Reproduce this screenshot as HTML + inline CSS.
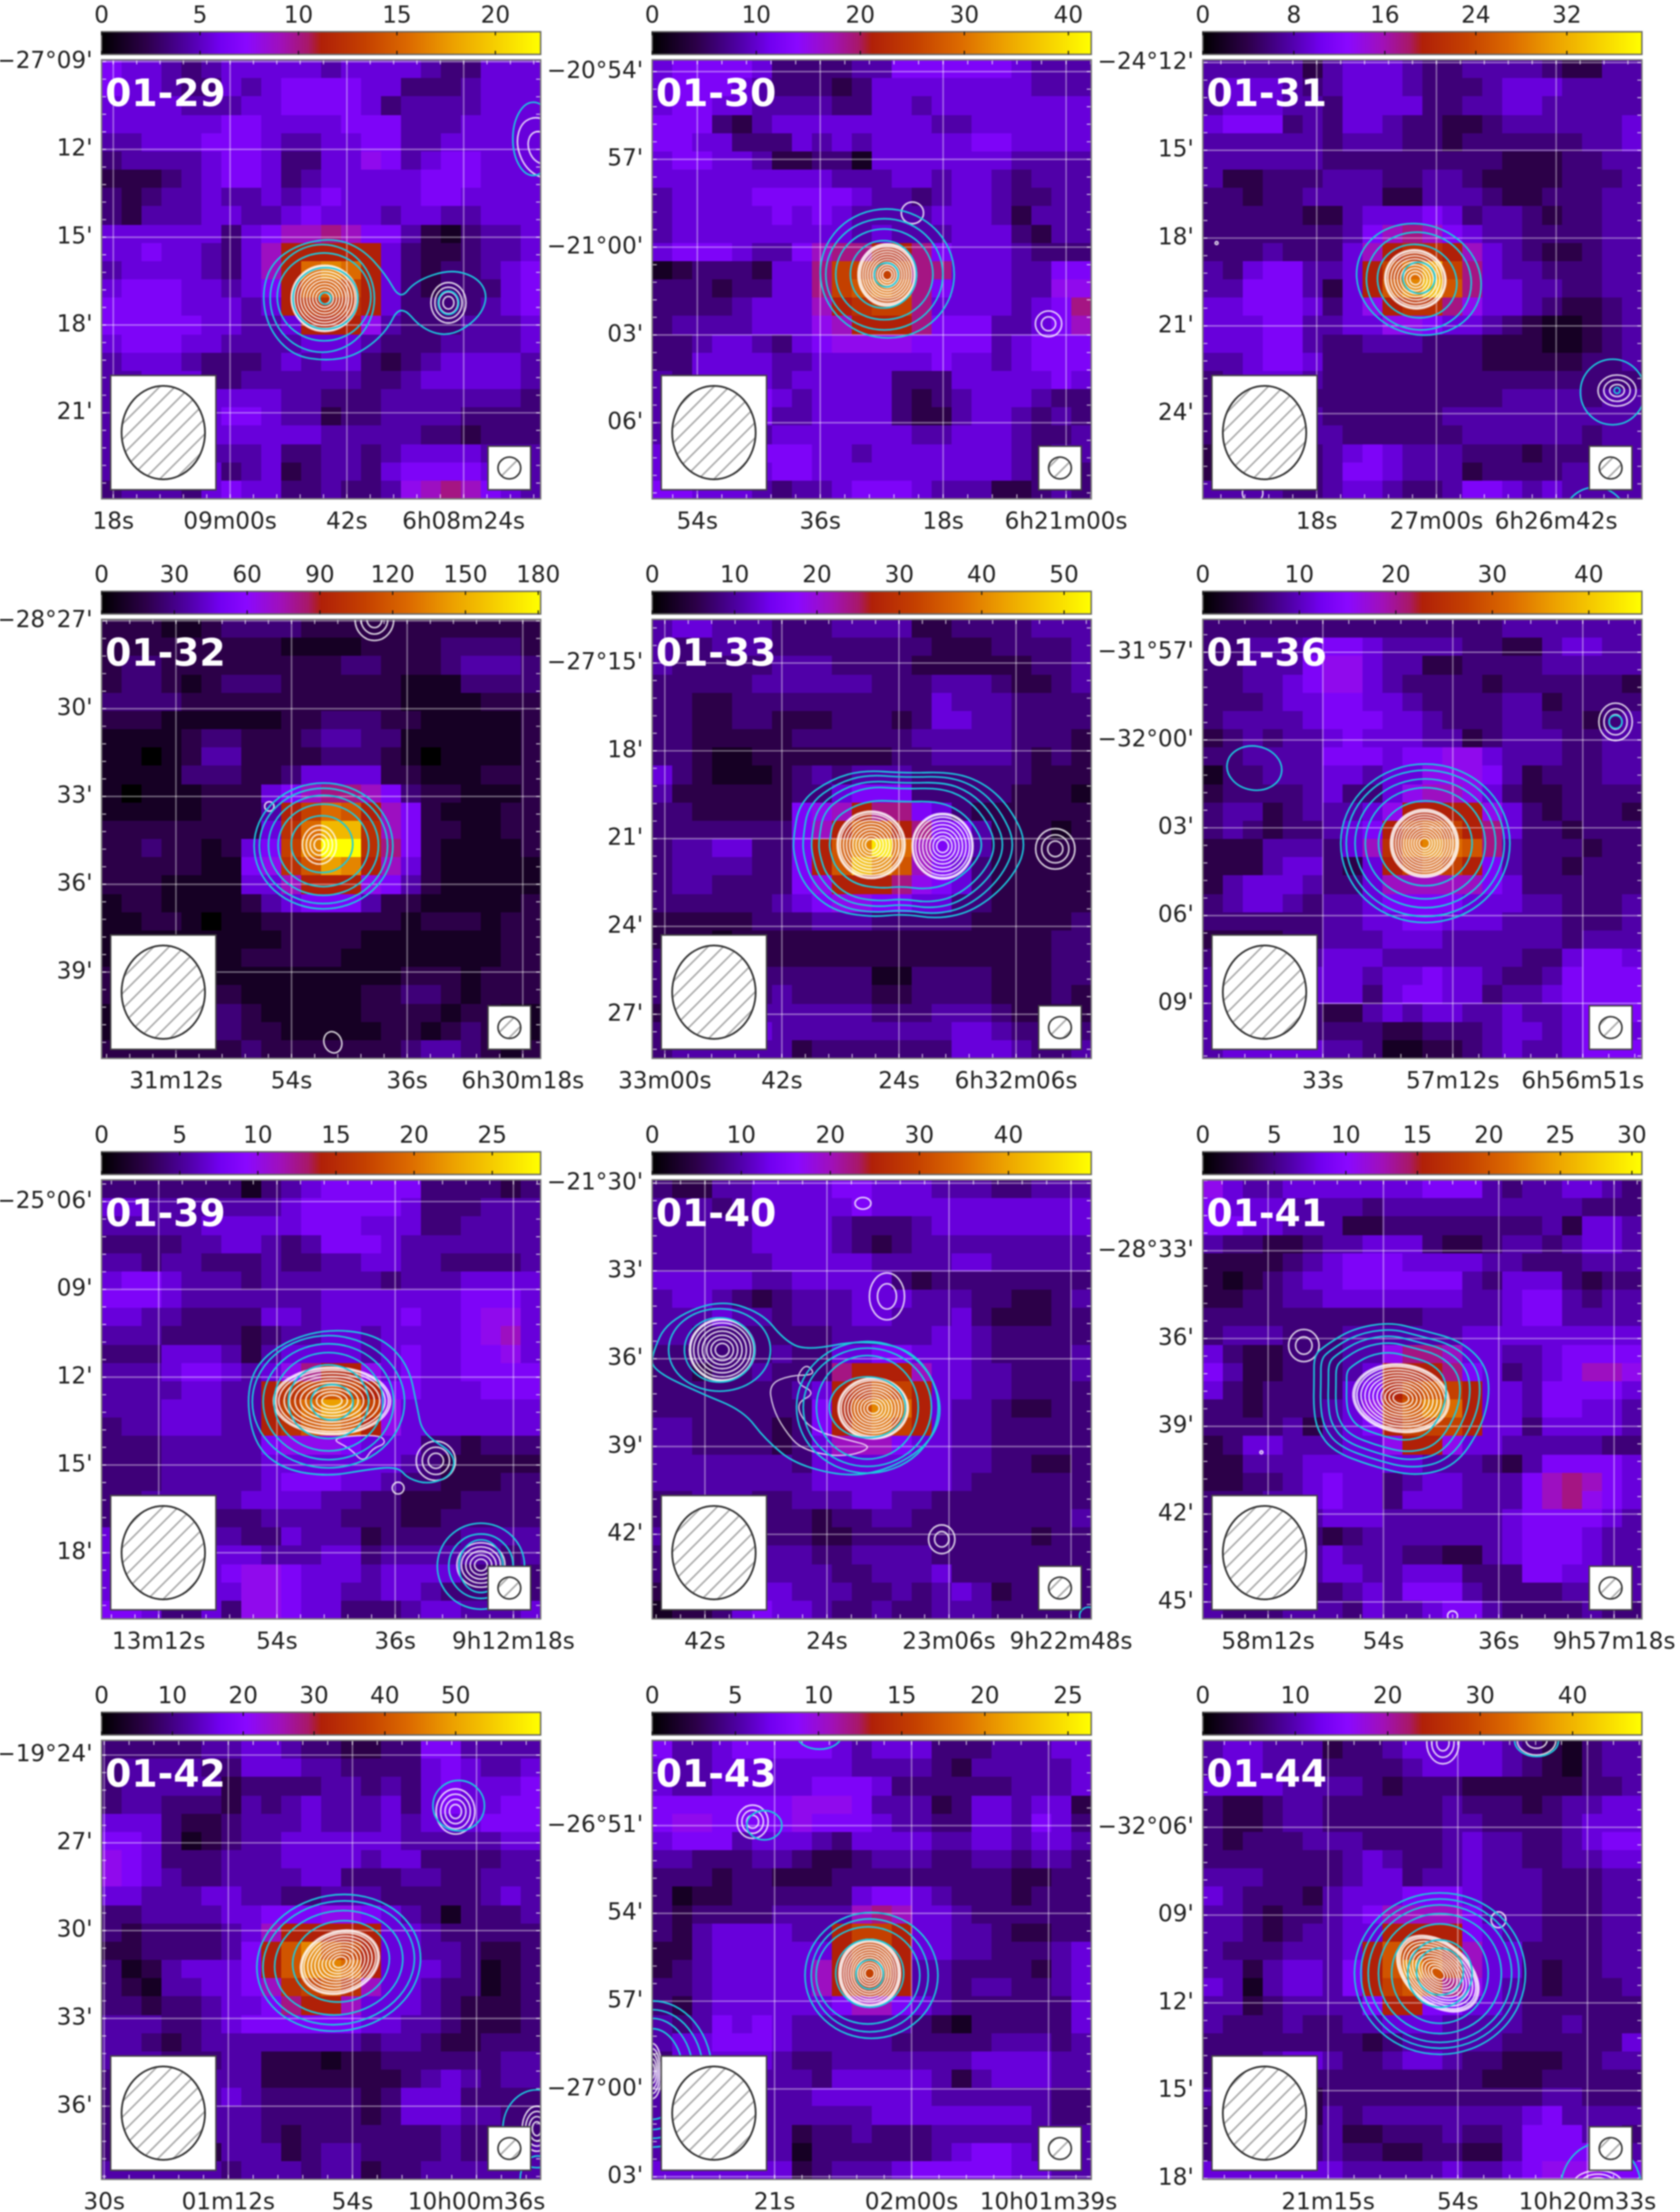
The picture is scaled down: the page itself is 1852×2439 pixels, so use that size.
<!DOCTYPE html>
<html lang="en">
<head>
<meta charset="utf-8">
<title>Radio continuum maps 01-29 to 01-44</title>
<style>
html,body{margin:0;padding:0;background:#fff;}
svg{display:block;filter:blur(0.7px);}
text{font-family:"DejaVu Sans","Liberation Sans",sans-serif;}
</style>
</head>
<body>
<svg id="figure" xmlns="http://www.w3.org/2000/svg" width="1852" height="2439" viewBox="0 0 1852 2439">
<defs>
<linearGradient id="cbGrad" x1="0" y1="0" x2="1" y2="0"></linearGradient>
<pattern id="hatch" patternUnits="userSpaceOnUse" width="12" height="12" patternTransform="rotate(-45)">
<line x1="0" y1="6" x2="12" y2="6" stroke="#a8a8a8" stroke-width="1.8"></line>
</pattern>
</defs>
</svg>
<script>
/* Heat values: colour-scale levels, 0 (black) to 20 (yellow) = top of each panel's colour bar */
const heat0129=[[6,5,5,4,3,4,5,5,5,5,5,4,5,5,5,5,4,3,3,5,5,5],[6,5,5,4,3,3,5,4,5,6,6,6,6,5,5,3,3,3,4,5,5,5],[5,5,5,5,4,4,4,5,5,6,6,6,6,5,3,4,4,4,4,5,5,5],[5,5,5,5,5,5,6,6,5,5,5,5,6,6,6,4,4,4,5,5,5,5],[4,4,5,5,5,6,6,6,5,4,4,5,5,6,6,4,4,5,5,5,5,5],[3,4,4,4,4,5,6,6,5,3,3,5,5,7,6,4,5,6,6,5,5,5],[2,2,2,3,4,5,6,6,5,3,4,5,5,5,5,5,6,6,6,5,5,5],[3,2,3,4,4,5,4,4,5,4,5,6,5,5,5,5,6,6,5,5,5,5],[3,2,4,4,4,5,5,4,4,5,6,5,5,5,4,5,5,4,4,5,5,5],[5,5,5,5,5,5,3,5,6,8,8,9,8,6,6,4,2,1,3,4,4,5],[5,5,6,5,5,4,3,5,8,10,10,10,10,10,5,3,2,2,3,4,4,5],[4,5,5,5,5,4,3,5,8,10,14,15,14,10,5,3,2,3,3,4,5,6],[5,6,6,6,5,5,4,5,6,10,13,13,12,10,5,3,2,3,3,3,5,6],[6,6,6,6,5,5,5,4,5,10,11,11,11,10,5,3,3,3,3,4,5,6],[6,6,6,6,6,5,5,4,4,5,10,10,10,7,4,3,3,3,4,4,4,5],[5,6,6,6,5,5,4,4,4,4,5,5,5,4,3,3,3,4,4,4,4,5],[4,5,5,5,4,3,3,3,4,5,4,5,5,3,2,3,4,5,5,5,5,4],[4,4,5,5,5,3,3,4,4,4,4,4,4,3,3,4,5,5,5,5,5,4],[4,4,4,4,4,5,5,5,5,4,4,3,3,3,4,4,4,4,4,4,4,3],[4,4,4,4,4,5,6,6,5,4,4,2,3,3,4,4,4,4,3,3,3,3],[4,4,4,4,4,5,5,5,5,5,5,4,4,4,4,4,3,3,2,3,3,3],[4,5,5,5,5,4,4,4,5,3,3,4,4,3,4,5,5,5,5,4,4,4],[4,4,5,5,4,5,3,4,5,2,3,4,4,3,5,6,6,6,6,5,5,4],[3,4,4,4,3,5,6,5,5,3,3,4,3,3,4,7,8,9,8,6,5,4]];
const heat0130=[[5,6,6,6,6,5,3,3,3,3,4,4,6,6,6,6,6,6,5,4,4,4],[5,6,6,6,5,4,3,3,3,2,3,5,5,5,5,5,5,5,5,4,4,4],[5,6,6,5,5,4,4,4,4,3,3,5,5,4,5,5,5,5,5,5,5,5],[6,6,6,3,2,4,5,5,5,5,5,5,5,5,4,4,5,5,5,5,5,5],[6,6,5,5,3,3,3,5,4,5,4,5,5,5,5,5,6,6,5,5,5,5],[5,6,6,5,5,4,2,2,3,3,1,5,5,5,5,5,5,5,4,4,4,4],[5,5,5,5,5,5,5,5,5,4,4,4,5,5,4,5,5,4,3,4,4,4],[4,5,5,5,5,6,6,6,6,6,5,4,4,3,4,5,5,4,3,3,4,4],[4,5,5,5,5,5,6,5,6,5,4,4,4,4,5,5,5,4,2,4,4,4],[4,5,5,5,5,5,5,5,5,5,4,5,4,4,4,5,5,5,3,2,4,4],[5,6,6,6,5,4,4,6,8,9,9,10,10,9,6,5,5,5,4,3,3,3],[1,2,3,3,3,2,5,5,9,12,12,12,12,9,9,5,5,5,4,4,6,6],[3,3,3,2,3,3,5,5,9,12,13,14,13,9,6,5,5,5,4,4,7,7],[3,3,3,3,4,5,5,5,8,10,11,12,12,9,5,5,5,5,4,5,6,9],[3,4,4,4,4,5,5,5,7,8,10,10,10,9,6,6,6,4,4,5,6,8],[3,3,4,5,5,4,3,5,6,7,7,7,7,6,6,6,6,4,5,6,6,6],[3,3,5,5,5,5,4,4,5,5,5,5,5,5,6,5,5,4,5,6,6,6],[4,3,5,5,5,5,4,5,5,5,5,5,3,3,3,5,5,5,5,5,6,5],[4,4,4,4,5,6,5,4,5,5,5,5,3,2,3,4,5,5,5,4,3,3],[4,4,4,5,5,6,4,4,5,5,5,5,3,2,2,4,5,5,4,3,4,3],[4,4,5,5,4,4,5,5,5,5,5,5,5,4,4,5,5,5,4,3,3,4],[5,5,5,6,5,6,6,6,5,5,4,5,5,5,5,5,5,5,4,3,4,4],[5,5,5,5,5,5,6,6,5,5,5,5,5,5,5,5,5,5,4,3,3,3],[6,6,5,5,5,4,3,4,4,5,6,6,6,5,4,4,4,2,2,3,4,3]];
const heat0131=[[4,4,4,4,4,2,4,5,5,5,4,3,3,4,4,4,4,3,2,2,4,4],[4,5,5,5,4,3,4,5,5,5,4,3,3,3,4,5,5,5,4,4,4,4],[4,5,5,5,4,4,3,5,5,5,5,3,3,4,4,5,5,4,4,4,4,4],[5,6,6,6,3,4,3,5,5,4,3,3,2,2,3,4,4,4,4,4,4,5],[4,4,4,4,4,4,3,4,4,4,3,3,2,3,3,3,3,3,3,4,4,5],[4,4,4,4,4,4,3,3,3,3,3,3,3,3,3,2,2,2,3,3,4,4],[4,2,2,3,3,3,4,4,4,3,3,4,4,3,2,2,2,2,3,3,3,4],[3,3,2,3,3,4,4,4,4,2,2,4,4,4,3,2,2,3,3,3,4,4],[3,3,3,3,3,2,2,4,5,5,5,6,5,3,4,4,3,2,3,3,4,4],[3,3,3,3,3,3,3,4,6,8,9,8,6,5,4,4,3,3,3,3,4,4],[3,3,3,4,3,3,3,5,8,10,11,11,10,8,5,4,3,2,2,3,4,4],[4,3,5,6,6,4,4,5,10,12,14,16,12,9,5,4,4,3,3,3,4,4],[4,4,6,6,6,4,2,5,10,13,15,17,13,9,5,5,4,4,3,3,4,4],[5,5,6,6,6,5,3,5,7,10,11,11,9,7,5,5,4,3,2,2,3,4],[5,5,5,6,6,4,4,5,5,7,7,6,5,5,4,3,2,1,1,2,3,4],[5,5,5,6,6,4,3,3,4,4,4,3,3,3,2,2,2,1,1,2,3,4],[4,4,5,6,6,5,3,3,3,3,3,3,3,3,2,2,2,2,2,3,3,4],[3,4,5,5,5,4,3,3,3,3,3,3,3,3,3,3,3,3,3,3,3,3],[3,3,3,3,3,3,3,3,3,3,3,3,3,3,3,4,4,4,4,3,4,4],[3,4,3,3,4,4,3,3,3,3,3,3,4,4,4,4,4,4,4,4,4,4],[3,3,4,4,4,4,4,3,3,3,3,3,3,4,4,4,4,4,4,3,4,4],[2,4,4,4,4,3,4,5,6,5,4,4,4,3,3,3,2,3,3,3,4,4],[2,3,3,4,4,3,4,6,6,5,4,4,4,2,3,3,3,3,4,4,4,4],[4,4,4,4,3,3,4,5,5,4,3,3,4,6,6,5,4,5,4,4,4,4]];
const heat0132=[[2,2,2,1,1,2,3,3,3,3,2,2,2,2,2,2,2,2,2,2,2,2],[2,2,2,2,2,2,2,2,2,1,1,1,1,2,2,2,2,3,3,3,3,2],[2,3,3,2,2,2,2,2,2,2,2,2,3,3,2,2,2,3,4,4,4,3],[2,3,3,2,1,2,3,3,3,2,2,2,2,2,2,1,1,1,3,3,3,3],[3,3,3,3,2,2,2,2,2,2,2,2,2,2,2,1,1,1,1,2,2,2],[2,2,2,1,1,1,1,1,1,2,2,3,3,3,2,2,1,1,1,1,1,2],[1,1,1,1,2,3,3,2,2,2,3,4,4,3,3,1,1,1,1,1,1,2],[1,1,0,1,2,4,4,2,2,2,2,3,3,3,2,1,0,1,1,1,1,2],[1,1,1,1,3,3,3,2,2,3,5,5,5,5,2,2,1,1,1,2,2,2],[1,0,1,1,1,2,2,2,5,6,8,9,9,8,6,3,2,2,1,1,1,2],[1,1,1,1,1,2,2,2,4,10,12,14,13,10,8,6,2,1,1,1,2,2],[2,2,2,2,2,2,2,2,5,11,14,17,17,11,8,6,2,2,1,1,2,2],[2,2,3,2,2,1,2,5,6,12,15,20,20,11,9,6,2,1,1,1,1,2],[2,2,2,2,2,1,1,6,7,11,13,16,15,10,8,5,2,1,1,1,1,1],[2,2,2,1,1,1,1,5,5,8,10,10,10,7,6,4,2,1,1,1,1,1],[1,2,2,1,1,1,1,2,4,5,6,6,6,4,2,2,1,1,1,1,1,2],[1,1,2,2,1,0,1,1,2,2,2,2,2,2,2,1,2,2,2,1,2,2],[1,1,1,1,1,1,1,1,1,2,2,2,2,1,1,1,1,1,1,1,2,2],[1,1,1,1,1,1,1,2,2,2,2,2,1,1,1,1,1,1,1,1,2,2],[2,2,2,2,1,1,1,1,1,1,1,1,1,1,1,2,2,2,1,2,2,2],[2,1,1,1,1,2,2,1,1,1,1,1,1,2,2,3,3,2,1,2,2,2],[1,1,1,1,1,3,3,2,1,1,1,1,1,2,2,2,2,1,2,2,1,1],[1,2,2,2,1,3,3,2,2,1,1,1,1,1,2,2,1,2,3,2,1,1],[2,2,2,2,2,2,2,3,2,2,2,2,2,2,2,3,4,4,3,2,1,2]];
const heat0133=[[4,5,5,4,4,4,3,3,3,4,4,4,4,2,2,3,3,3,3,4,4,4],[4,3,3,4,4,4,3,3,3,3,3,3,3,3,2,2,2,3,3,3,3,4],[4,3,3,3,3,3,4,4,4,3,3,3,3,2,2,2,2,2,2,3,3,4],[3,3,3,3,3,4,4,4,4,4,4,3,3,3,4,4,4,3,2,2,3,4],[3,3,2,2,3,3,3,3,3,3,3,3,3,3,5,4,4,4,3,3,3,3],[3,3,2,2,3,3,2,2,2,3,3,3,2,3,5,5,4,4,3,3,3,3],[3,3,2,2,2,2,2,3,3,3,3,3,3,4,4,4,4,4,3,3,3,2],[3,3,2,1,1,2,2,2,2,2,2,2,3,3,4,4,4,4,3,2,3,2],[5,3,2,1,1,1,2,3,4,3,4,4,4,3,3,3,3,3,3,2,2,2],[4,2,2,2,2,2,2,3,3,5,6,6,6,3,3,3,3,3,2,2,2,1],[3,3,2,2,2,2,2,6,7,8,10,9,9,6,5,3,2,2,2,2,2,2],[3,3,3,3,3,3,3,6,8,10,13,13,10,9,6,6,4,2,2,2,1,2],[3,4,4,5,5,3,3,6,10,13,15,19,14,8,6,6,4,2,2,2,2,2],[3,4,4,4,4,3,3,6,10,13,17,15,13,8,6,5,3,2,2,2,2,2],[3,4,4,3,3,3,3,6,7,10,10,10,9,7,6,5,3,2,2,2,2,2],[3,3,3,3,3,3,4,5,6,7,7,6,6,5,5,3,3,2,2,2,2,2],[2,2,2,2,2,3,3,3,4,4,4,3,3,3,3,3,2,2,2,2,2,3],[2,2,2,1,2,2,2,2,2,2,2,2,2,2,2,2,2,2,2,2,3,3],[3,3,3,2,2,2,2,2,2,2,2,2,2,2,2,2,2,2,2,2,3,3],[3,3,3,3,3,3,3,3,3,3,3,1,1,3,3,3,3,2,2,2,3,3],[3,3,3,3,3,3,4,3,3,3,3,2,2,3,3,3,3,2,2,2,3,2],[2,3,3,3,3,4,4,4,4,4,4,3,3,3,4,4,4,3,2,2,2,2],[3,4,4,4,4,5,4,4,4,4,4,4,4,4,4,5,5,4,3,3,3,3],[3,4,4,4,4,4,4,2,3,3,3,3,3,3,3,5,5,5,4,3,3,4]];
const heat0136=[[3,3,3,3,3,3,3,3,3,3,3,3,3,3,3,4,4,4,4,4,4,4],[3,3,4,4,4,5,6,6,5,4,4,4,4,3,3,2,2,4,5,5,4,4],[3,3,4,4,4,6,7,7,5,4,4,2,2,3,3,3,3,4,4,4,4,4],[3,3,4,4,5,6,7,7,5,4,3,3,3,3,2,3,3,3,3,3,3,2],[3,3,3,4,5,5,6,6,5,5,4,3,3,3,3,4,4,2,3,3,3,3],[3,4,4,4,4,5,6,6,6,5,5,4,3,3,3,4,4,3,3,2,3,4],[2,3,4,3,4,4,5,6,5,5,5,4,4,2,3,4,4,4,3,3,4,4],[3,3,4,4,4,4,6,6,6,5,6,6,7,7,5,4,4,4,3,3,4,4],[1,3,3,4,4,4,5,5,4,5,5,7,7,7,6,4,2,3,3,3,4,4],[2,3,3,3,3,4,5,3,3,5,7,8,8,7,5,3,2,2,3,3,3,3],[3,4,4,2,3,4,4,4,5,7,10,10,10,10,7,5,3,2,3,3,3,2],[3,4,3,2,3,3,4,5,6,10,12,13,12,10,9,5,3,3,2,3,3,3],[2,2,2,4,4,4,3,5,8,11,14,15,14,13,9,4,3,3,3,2,3,3],[2,2,2,4,5,5,3,2,5,10,12,13,12,10,6,4,3,3,2,3,3,3],[2,4,5,5,5,4,3,3,5,8,8,8,8,8,6,5,3,3,3,3,3,3],[3,4,5,5,4,3,4,4,5,6,6,6,6,5,5,5,4,4,3,3,3,4],[3,3,3,3,3,3,4,4,5,5,6,6,5,5,5,4,4,4,3,3,3,4],[2,2,2,2,3,3,4,4,4,5,5,5,4,4,4,4,4,4,3,4,4,4],[3,3,3,3,4,4,5,5,5,4,4,4,4,4,4,4,3,3,5,6,6,5],[4,4,4,4,4,5,5,5,4,5,5,6,5,5,4,3,3,4,6,6,6,6],[4,4,4,4,4,5,5,5,3,5,6,6,5,5,3,4,4,5,6,6,6,6],[4,4,4,4,3,3,2,2,4,5,4,5,5,4,4,5,4,4,5,6,6,6],[4,4,4,4,3,3,3,3,3,2,2,3,3,3,4,5,5,4,5,6,6,5],[4,5,5,5,5,5,4,4,3,1,1,2,2,3,4,5,4,4,5,6,6,6]];
const heat0139=[[3,3,3,3,3,3,3,1,3,4,5,6,6,6,6,6,3,3,3,3,2,3],[5,5,4,4,4,4,4,4,4,5,6,6,6,6,6,5,3,3,3,4,4,4],[4,4,4,4,4,5,5,5,5,5,6,6,6,5,5,5,3,3,4,4,4,4],[3,3,3,3,4,4,5,5,4,3,4,6,6,6,5,4,4,4,4,4,4,4],[4,4,3,4,4,3,3,3,4,3,3,4,4,5,5,4,4,3,3,3,3,4],[5,6,6,5,4,4,4,3,4,4,4,4,4,4,3,4,4,4,5,5,5,5],[6,6,6,5,4,4,4,4,4,4,4,5,5,5,5,5,5,5,6,6,6,5],[5,5,4,4,3,3,3,3,5,5,4,5,5,5,5,6,5,5,6,7,7,5],[4,4,4,3,3,3,3,2,3,4,4,5,5,4,5,5,5,5,6,7,8,5],[3,3,3,5,5,5,4,2,4,5,5,5,5,4,5,6,5,5,6,6,7,5],[4,4,4,5,6,6,5,4,5,7,9,10,10,7,5,6,5,5,6,6,6,6],[4,4,4,4,5,5,4,4,10,11,12,13,12,10,6,6,5,5,5,6,6,6],[4,4,4,5,5,5,4,4,10,12,14,16,15,12,7,5,5,5,5,5,5,5],[3,4,4,5,5,5,4,4,10,11,13,14,13,10,7,5,5,5,5,5,5,5],[3,3,3,4,4,4,4,4,6,7,7,7,6,5,5,5,3,3,2,3,3,3],[3,3,3,4,4,4,4,4,5,5,5,5,5,5,5,4,3,2,2,2,2,2],[3,3,3,4,4,4,4,4,5,6,6,6,5,5,4,3,3,2,2,2,3,3],[3,3,4,4,4,4,4,5,5,5,5,4,4,3,3,2,2,2,3,3,3,3],[3,3,4,3,2,3,3,3,4,4,4,4,3,3,3,2,2,3,3,3,3,3],[5,5,5,5,4,4,4,3,3,5,4,4,4,2,3,3,3,3,4,4,4,4],[5,5,5,5,4,5,5,5,4,4,4,5,5,3,4,4,4,4,4,4,3,4],[5,5,6,6,6,5,6,7,7,6,5,5,5,4,5,5,5,5,3,3,3,3],[5,6,6,6,6,5,5,7,7,6,5,5,4,4,5,5,4,3,3,3,3,3],[6,6,5,3,3,5,3,7,7,6,5,5,3,3,3,4,5,5,4,4,4,5]];
const heat0140=[[3,2,2,4,4,5,5,5,5,6,6,5,5,5,4,4,4,3,3,4,4,4],[4,4,4,3,4,5,5,5,5,5,6,5,5,5,5,5,5,5,5,5,5,5],[4,4,4,4,4,5,5,5,5,4,3,3,3,4,5,5,5,5,5,5,5,5],[4,4,4,4,4,5,5,5,5,4,3,2,3,4,4,4,4,4,4,4,4,4],[4,4,4,4,4,4,5,5,5,5,5,4,4,4,4,5,5,4,4,4,4,4],[5,5,5,5,5,4,4,5,5,5,5,5,3,2,3,3,3,3,3,3,3,3],[4,5,5,4,3,2,3,4,4,4,5,5,5,4,4,4,3,3,2,2,3,4],[4,4,4,5,4,4,3,4,4,4,5,5,4,4,4,5,3,2,2,2,3,3],[4,4,3,3,3,3,3,3,3,4,4,4,4,4,5,5,4,3,3,3,3,3],[3,3,3,3,3,3,4,3,3,5,5,6,6,5,5,5,4,3,3,3,3,4],[3,3,2,3,3,4,3,3,3,9,10,10,10,8,5,5,4,4,3,3,3,4],[3,3,3,3,3,3,3,4,5,10,11,13,12,10,5,5,4,4,3,3,3,3],[3,3,3,3,3,3,3,3,6,10,13,15,14,10,5,4,4,3,2,2,3,3],[4,4,3,3,3,3,2,3,6,10,13,14,12,10,5,4,4,3,3,3,3,3],[4,4,3,3,3,3,2,3,5,8,8,8,6,5,5,4,4,3,3,3,3,3],[4,4,4,4,4,4,4,3,5,5,5,5,5,5,5,4,4,3,3,2,2,3],[4,4,4,4,4,4,4,4,5,5,5,5,5,5,5,4,3,3,3,3,3,3],[3,3,4,4,4,3,3,4,4,4,5,5,4,4,3,3,3,3,3,3,3,3],[3,3,3,3,3,3,3,3,2,3,3,4,4,3,3,3,3,3,3,3,3,4],[4,3,4,4,4,3,3,3,2,2,3,3,3,3,3,3,3,3,3,2,3,3],[3,3,3,4,4,4,4,4,3,3,4,4,4,4,3,3,3,3,3,3,3,3],[3,3,3,3,5,4,4,4,4,3,3,4,4,4,5,3,3,3,3,3,3,3],[2,4,4,4,5,5,5,4,4,4,3,3,4,3,4,5,4,2,3,3,3,3],[1,2,2,3,5,6,5,5,4,3,3,4,3,3,4,4,4,3,3,3,3,3]];
const heat0141=[[7,5,4,4,5,5,5,5,5,5,5,6,6,6,4,3,4,4,5,5,4,3],[6,5,5,5,4,4,4,4,3,4,4,4,4,4,4,4,4,4,4,3,3,3],[6,6,5,5,4,4,4,2,2,3,3,3,3,3,3,3,3,4,2,5,5,4],[4,3,3,2,2,3,4,4,5,5,5,3,2,2,3,4,4,3,4,5,5,4],[2,2,2,2,3,4,5,6,6,6,5,5,5,5,4,4,3,3,3,4,4,4],[2,1,2,3,4,5,5,6,6,6,6,6,6,4,3,5,5,5,3,2,3,3],[2,2,3,3,4,4,5,5,5,5,5,5,5,4,4,5,6,6,4,3,4,4],[3,3,3,3,3,3,3,3,3,3,3,4,4,4,4,5,6,6,4,4,4,4],[3,4,4,4,3,3,3,4,4,4,4,4,4,5,5,5,5,5,5,5,5,5],[5,3,2,2,3,3,3,4,4,7,9,9,8,5,5,4,4,5,6,6,6,6],[6,4,2,2,3,3,3,4,5,10,10,10,9,6,5,3,4,5,6,8,8,7],[5,3,2,3,3,3,3,5,6,10,12,13,12,10,5,5,4,6,6,6,6,5],[3,3,2,3,3,3,4,5,7,11,13,15,14,10,5,5,4,6,6,5,5,4],[3,3,3,3,4,2,4,5,6,10,12,12,12,10,5,5,3,5,5,5,5,4],[2,3,5,5,4,4,4,5,5,7,10,10,7,5,5,4,4,4,4,4,3,3],[2,2,4,4,4,5,5,5,5,5,5,4,4,4,3,2,4,6,6,6,6,5],[2,2,3,3,4,5,6,5,5,3,4,5,5,4,4,4,6,8,9,8,6,5],[3,3,3,4,4,5,6,5,5,3,5,5,5,4,4,4,6,8,9,7,6,5],[3,3,3,3,2,4,5,5,5,4,4,4,4,4,4,5,6,6,6,6,5,4],[3,3,3,3,3,3,2,3,4,4,4,4,4,4,4,5,6,6,6,5,4,4],[3,3,3,3,4,4,5,4,4,4,3,3,2,2,4,5,6,6,6,5,4,4],[4,4,3,3,4,4,5,5,4,4,5,5,5,3,3,3,6,6,5,5,4,4],[4,4,3,3,4,3,3,4,5,4,6,6,6,4,3,3,3,3,4,4,4,4],[4,3,3,3,4,4,4,3,5,4,4,5,6,6,4,3,3,3,3,4,3,3]];
const heat0142=[[3,3,3,3,3,4,4,5,5,4,3,3,2,2,3,3,6,6,4,4,4,4],[3,4,4,4,4,3,3,5,5,5,4,4,3,3,3,3,5,6,5,4,4,5],[3,4,4,4,4,4,2,3,3,3,3,4,4,3,4,3,5,6,5,5,5,6],[3,4,4,3,3,3,2,4,3,4,5,4,4,4,5,3,5,6,5,5,6,6],[5,5,5,3,2,2,3,4,4,4,5,4,4,4,5,4,5,5,5,6,6,6],[6,6,5,3,1,2,3,4,4,5,5,5,5,5,5,4,4,4,4,4,5,5],[7,6,5,3,3,3,4,4,4,5,5,5,5,4,5,5,3,3,3,3,4,4],[7,6,5,4,3,3,4,4,4,4,5,5,3,3,3,4,4,3,3,4,4,4],[5,5,4,4,4,5,5,4,4,3,3,4,4,4,3,3,3,3,3,4,5,4],[3,3,4,4,4,4,5,5,6,6,6,7,7,6,5,4,3,1,3,3,3,4],[3,2,3,3,3,3,4,5,8,10,10,10,10,10,5,5,4,3,3,3,3,3],[2,2,3,3,3,3,4,6,10,13,15,13,12,10,5,5,4,4,3,2,2,3],[3,1,2,4,5,5,5,6,10,13,15,15,14,10,5,5,5,4,3,1,2,3],[3,2,1,4,4,5,5,6,8,11,12,13,11,8,5,5,4,3,3,1,2,3],[3,3,2,3,3,4,5,5,6,9,10,10,8,5,5,5,4,3,2,2,2,3],[4,4,4,3,3,4,5,6,6,6,6,6,6,5,5,4,4,3,2,2,2,3],[4,4,3,2,3,4,4,4,4,4,4,4,4,3,4,4,3,2,2,3,3,3],[4,4,4,3,3,3,4,4,2,2,2,1,2,2,3,3,3,3,3,3,4,4],[3,3,3,3,3,4,4,4,2,2,2,2,2,2,2,3,4,5,4,3,4,4],[3,3,3,3,3,4,5,4,3,3,3,3,3,2,3,5,5,5,3,3,3,3],[3,3,3,3,3,4,4,4,3,3,3,3,3,2,3,5,5,5,4,4,3,3],[3,3,3,3,3,4,4,4,3,2,3,3,3,3,3,3,3,4,3,3,3,3],[3,3,3,3,3,2,4,4,4,2,3,4,4,3,3,3,3,4,3,3,4,4],[4,4,4,4,4,4,3,4,4,4,3,4,4,2,3,3,4,4,4,4,4,4]];
const heat0143=[[6,4,4,5,6,6,6,6,6,5,4,5,5,5,3,3,3,4,4,4,5,5],[5,4,4,5,5,5,5,5,5,5,4,4,4,4,3,2,4,4,4,4,4,5],[5,4,4,5,5,5,5,5,6,6,6,5,3,3,3,3,3,3,4,4,4,5],[6,6,6,6,6,6,6,7,7,7,6,4,4,4,2,3,5,5,4,5,5,2],[6,7,7,6,6,6,6,7,6,6,6,5,4,4,3,3,5,5,4,6,5,3],[5,6,6,6,4,5,5,5,4,3,5,5,5,5,4,4,5,5,4,5,5,4],[4,4,3,3,3,4,4,3,2,2,3,4,4,4,3,3,4,4,3,4,4,3],[3,3,3,2,3,3,2,2,2,3,3,3,3,3,3,3,3,3,2,2,3,3],[3,1,2,2,3,3,3,3,3,3,5,6,6,5,4,3,3,3,2,3,3,3],[3,2,3,3,3,3,4,4,4,4,8,9,8,5,5,4,3,3,3,3,3,3],[3,2,4,5,5,5,5,4,4,10,12,12,10,5,5,4,4,3,2,2,3,3],[2,2,4,5,5,5,5,5,5,10,12,12,10,5,5,4,4,3,3,3,4,5],[2,3,4,5,5,5,5,5,8,10,12,12,10,4,4,3,3,3,3,2,4,5],[3,3,4,5,5,5,5,5,8,10,11,11,10,4,4,3,4,4,3,3,4,5],[3,2,4,5,5,5,5,5,5,6,8,8,6,5,4,3,3,3,3,3,3,5],[4,3,4,6,5,6,5,4,4,4,4,4,4,3,2,1,3,3,3,3,3,5],[4,5,5,6,6,6,5,4,4,4,4,4,3,3,3,3,3,4,4,4,3,4],[3,5,5,5,5,5,4,3,3,4,4,4,4,4,4,4,5,5,5,5,4,4],[4,4,4,4,4,4,4,4,3,5,5,5,5,5,4,2,4,5,5,5,4,4],[4,4,4,4,4,4,4,4,5,5,5,5,5,5,4,4,4,4,4,4,3,3],[4,4,4,4,4,4,4,4,4,4,4,5,5,5,5,5,5,5,5,4,3,3],[4,4,4,4,4,4,4,2,3,3,4,3,3,3,4,4,4,4,4,4,4,4],[4,4,4,4,4,4,4,1,3,3,3,3,3,3,4,5,6,6,5,4,4,4],[5,5,5,5,5,5,5,2,3,4,4,4,5,6,6,6,6,6,5,5,4,4]];
const heat0144=[[4,5,5,4,4,4,2,3,3,4,5,5,5,5,5,4,3,2,1,3,4,4],[4,5,5,4,4,4,3,3,3,3,4,5,5,5,5,4,3,2,1,3,4,4],[5,5,5,5,4,4,4,4,3,2,3,3,3,2,2,2,2,2,2,3,3,4],[3,2,2,3,4,4,3,3,3,3,3,3,4,3,3,3,2,3,4,4,5,5],[3,2,2,3,4,4,3,3,3,3,3,3,4,4,3,3,3,3,4,5,5,5],[3,2,3,3,3,4,4,4,3,3,3,3,4,5,4,4,3,3,4,5,6,6],[3,3,3,3,3,3,3,4,5,4,3,3,4,5,4,4,3,3,4,4,5,5],[4,4,4,3,3,3,3,4,5,5,3,4,4,5,4,4,4,3,3,3,4,4],[5,4,3,3,3,2,4,5,5,5,6,6,6,5,4,4,4,3,3,3,4,4],[4,4,3,2,3,3,4,5,6,8,8,8,8,6,4,4,4,3,3,3,4,4],[4,4,3,2,3,4,4,5,5,10,10,10,10,6,5,4,4,3,3,3,4,4],[4,3,3,3,4,4,4,5,10,13,12,12,10,8,5,5,3,3,3,3,4,4],[4,4,2,4,5,5,4,6,10,13,15,13,11,8,5,5,3,2,3,3,4,4],[5,4,1,4,5,5,4,6,10,12,13,11,9,7,5,4,3,2,3,3,3,4],[4,4,2,3,4,4,4,4,6,10,10,6,6,5,5,4,3,3,3,3,3,3],[4,3,3,3,4,3,3,4,4,5,5,5,4,4,4,4,3,3,4,3,3,3],[3,3,3,3,3,3,3,3,2,3,4,4,4,4,4,3,3,3,3,3,3,5],[3,3,3,4,5,5,4,3,3,4,5,5,4,3,3,2,2,2,3,3,4,4],[3,3,3,3,3,3,3,3,3,3,3,3,3,3,2,2,2,3,3,3,3,3],[4,3,3,3,3,2,3,3,3,3,3,3,3,3,3,3,3,4,4,3,3,3],[3,3,3,3,3,2,4,3,4,4,4,4,4,4,4,4,5,6,4,4,4,4],[3,3,3,3,3,3,4,2,2,3,3,3,4,3,3,4,6,6,6,4,4,3],[3,3,3,3,3,3,4,3,3,2,2,3,3,2,2,4,6,6,6,6,5,4],[5,5,5,5,5,5,5,4,4,4,4,4,5,4,4,5,6,7,7,7,6,6]];

/* Panel identity, colour-bar range and tick labels */
const panelIds=["01-29","01-30","01-31","01-32","01-33","01-36","01-39","01-40","01-41","01-42","01-43","01-44"];
const colorMax=[22.3,42.2,38.6,181,53.3,45.5,28.1,49.3,30.7,62,26.4,47.5];
const cbTicks0129=[0,5,10,15,20];
const cbTicks0130=[0,10,20,30,40];
const cbTicks0131=[0,8,16,24,32];
const cbTicks0132=[0,30,60,90,120,150,180];
const cbTicks0133=[0,10,20,30,40,50];
const cbTicks0136=[0,10,20,30,40];
const cbTicks0139=[0,5,10,15,20,25];
const cbTicks0140=[0,10,20,30,40];
const cbTicks0141=[0,5,10,15,20,25,30];
const cbTicks0142=[0,10,20,30,40,50];
const cbTicks0143=[0,5,10,15,20,25];
const cbTicks0144=[0,10,20,30,40];
const raLabels0129=["18s","09m00s","42s","6h08m24s"];
const raLabels0130=["54s","36s","18s","6h21m00s"];
const raLabels0131=["18s","27m00s","6h26m42s"];
const raLabels0132=["31m12s","54s","36s","6h30m18s"];
const raLabels0133=["33m00s","42s","24s","6h32m06s"];
const raLabels0136=["33s","57m12s","6h56m51s"];
const raLabels0139=["13m12s","54s","36s","9h12m18s"];
const raLabels0140=["42s","24s","23m06s","9h22m48s"];
const raLabels0141=["58m12s","54s","36s","9h57m18s"];
const raLabels0142=["30s","01m12s","54s","10h00m36s"];
const raLabels0143=["21s","02m00s","10h01m39s"];
const raLabels0144=["21m15s","54s","10h20m33s"];
const decLabels0129=["−27°09'","12'","15'","18'","21'"];
const decLabels0130=["−20°54'","57'","−21°00'","03'","06'"];
const decLabels0131=["−24°12'","15'","18'","21'","24'"];
const decLabels0132=["−28°27'","30'","33'","36'","39'"];
const decLabels0133=["−27°15'","18'","21'","24'","27'"];
const decLabels0136=["−31°57'","−32°00'","03'","06'","09'"];
const decLabels0139=["−25°06'","09'","12'","15'","18'"];
const decLabels0140=["−21°30'","33'","36'","39'","42'"];
const decLabels0141=["−28°33'","36'","39'","42'","45'"];
const decLabels0142=["−19°24'","27'","30'","33'","36'"];
const decLabels0143=["−26°51'","54'","57'","−27°00'","03'"];
const decLabels0144=["−32°06'","09'","12'","15'","18'"];
/* Tick placement on the sky, arcminutes from the panel's left / top edge */
const raFirstTick=[0.40,1.54,3.89,2.54,0.43,4.10,1.95,1.80,2.23,0.09,4.18,4.28];
const raTickStep=[3.99,4.20,4.09,3.95,4.00,4.44,4.04,4.17,3.94,4.24,4.68,4.43];
const decFirstTick=[0.06,0.40,0.09,0.05,1.49,1.12,0.74,0.11,2.42,0.50,2.91,2.97];
const decTickStep=[3];
const fieldSize=[15];

/* Contours in arcmin from the panel's top-left corner.
   ring: [cx,cy,rx,ry,count,rot]; cyan: [cx,cy,rx,ry,rot]; blob: [points,[scaleX,scaleY]...]; open: white open line */
const contours0129=[["ring",7.62,8.15,1.14,1.13,10,0],["ring",11.85,8.3,.6,.69,4,0],["ring",15,3,.75,1.05,2,-20],["cyan",7.65,8.15,.2,.2,0],["cyan",7.65,8.15,1.11,1.05,0],["cyan",7.6,8.1,1.6,1.5,0],["cyan",7.54,8.15,1.78,1.84,0],["blob",[[5.47,8.03],[5.78,6.97],[6.67,6.32],[7.87,6.08],[8.88,6.43],[9.7,7.32],[10.2,8.21],[10.71,7.56],[11.91,7.15],[12.86,7.44],[13.21,8.09],[12.86,8.86],[11.91,9.46],[10.96,9.22],[10.2,8.33],[9.7,9.34],[8.69,10.11],[7.68,10.29],[6.54,10.11],[5.72,9.22]],[[1,1]]],["cyan",11.85,8.3,.35,.4,0],["cyan",14.75,2.7,.7,1.25,0]];
const contours0130=[["ring",8.03,7.35,1,1.06,11,0],["ring",8.89,5.23,.38,.37,1,0],["ring",13.54,9.02,.45,.44,2,0],["cyan",8.0,7.35,.41,.41,0],["cyan",7.9,7.33,1.13,1.15,0],["cyan",7.93,7.33,1.66,1.55,0],["cyan",7.93,7.33,2,1.9,0],["cyan",8.03,7.3,2.29,2.2,10]];
const contours0131=[["ring",7.26,7.5,1.05,1,9,25],["ring",14.15,11.3,.65,.53,3,0],["ring",1.7,14.8,.35,.35,1,0],["ring",13.5,15.5,.4,.3,1,0],["ring",.47,6.26,.05,.05,1,0],["cyan",7.38,7.45,.55,.53,20],["cyan",7.32,7.56,1.37,1.24,20],["cyan",7.38,7.56,1.8,1.66,15],["cyan",7.38,7.5,2.16,1.87,20],["cyan",14,11.35,1.1,1.12,0],["cyan",14.15,11.3,.1,.1,0],["cyan",13.4,15.9,1.17,1.3,0]];
const contours0132=[["ring",7.44,7.7,.58,.66,4,0],["ring",9.32,0,.66,.72,3,0],["ring",5.73,6.39,.16,.16,1,0],["ring",7.9,14.45,.3,.37,1,-20],["cyan",7.53,7.68,1.05,.97,0],["cyan",7.58,7.72,1.55,1.41,0],["cyan",7.58,7.72,1.88,1.71,0],["cyan",7.58,7.74,2.19,1.97,0],["cyan",7.58,7.74,2.37,2.15,0]];
const contours0133=[["ring",7.48,7.7,1.16,1.15,10,0],["ring",9.92,7.75,1.04,1.12,8,0],["ring",13.77,7.84,.67,.69,3,0],["blob",[[4.81,7.52],[5.03,6.22],[6.13,5.45],[7.23,5.15],[8.58,5.25],[10.29,5.21],[11.39,5.62],[12.24,6.45],[12.83,7.7],[12.24,8.94],[11.02,9.95],[9.8,10.24],[8.58,10.06],[7.48,10.18],[6.13,9.95],[5.16,9.06],[4.85,8.11]],[[1,1],[.91,.94],[.83,.86],[.76,.78],[.66,.6]]]];
const contours0136=[["ring",7.57,7.65,1.16,1.16,12,0],["ring",14.1,3.5,.57,.64,3,0],["cyan",7.6,7.65,2.89,2.71,0],["cyan",7.6,7.65,2.7,2.5,0],["cyan",7.6,7.65,2.4,2.2,0],["cyan",7.6,7.65,2.05,1.9,0],["cyan",7.6,7.65,1.6,1.45,0],["cyan",1.76,5.08,.94,.75,10],["cyan",14.1,3.5,.22,.22,0]];
const contours0139=[["ring",7.87,7.55,2,1.15,10,0],["ring",11.42,9.6,.67,.67,3,0],["ring",10.13,10.53,.2,.2,1,0],["ring",12.96,13.16,.82,.76,5,0],["open",[[9.49,8.69],[9.74,9.0],[9.24,9.18],[8.94,9.67],[8.5,9.18],[7.75,8.81]]],["cyan",7.87,7.6,.72,.61,0],["cyan",7.75,7.58,1.37,1.26,0],["cyan",7.75,7.58,1.86,1.68,0],["cyan",7.75,7.58,2.23,1.98,0],["cyan",7.75,7.58,2.6,2.26,0],["blob",[[4.94,7.53],[5.26,6.3],[6.38,5.45],[7.87,5.08],[9.49,5.32],[10.48,6.3],[10.78,7.77],[10.97,8.69],[12.09,9.36],[11.97,10.1],[11.22,10.4],[10.48,10.22],[10.11,9.79],[8.99,9.91],[7.75,10.13],[6.26,9.91],[5.26,9.12]],[[1,1]]],["cyan",12.96,13.2,.75,.9,0],["cyan",12.96,13.2,1.1,1.1,0],["cyan",12.96,13.2,1.49,1.47,0]];
const contours0140=[["ring",7.55,7.81,1.2,1.04,10,0],["ring",2.39,5.81,1.12,1.06,7,0],["ring",8.02,3.98,.6,.8,2,0],["ring",7.2,.8,.27,.2,1,0],["ring",9.89,12.28,.45,.49,2,0],["open",[[5.23,6.24],[5.61,6.67],[4.73,6.67],[3.99,6.98],[4.11,7.77],[4.49,8.51],[5.11,9.24],[6.6,9.49],[7.6,9.12],[6.6,8.87],[5.36,8.51],[4.86,7.65],[5.61,7.28],[4.86,6.92]]],["cyan",7.35,7.77,1.3,1.04,0],["cyan",7.35,7.77,1.74,1.77,0],["cyan",7.35,7.77,2.19,2.02,0],["cyan",7.35,7.77,2.42,2.25,0],["cyan",2.3,5.81,1.2,1.1,0],["cyan",2.3,5.81,1.74,1.41,0],["blob",[[0,5.94],[.5,4.83],[2.24,4.08],[3.74,4.53],[4.49,5.45],[5.23,5.84],[7.23,5.45],[9.1,5.88],[10.02,7.77],[9.35,9.24],[7.23,10.22],[4.98,9.79],[3.86,8.87],[3.12,7.89],[1.62,7.28],[0,6.49]],[[1,1]]],["cyan",14.9,14.9,.3,.3,0]];
const contours0141=[["ring",6.77,7.46,1.65,1.16,11,8],["ring",3.45,5.66,.52,.55,2,0],["ring",2,9.31,.05,.05,1,0],["ring",8.53,14.9,.17,.17,1,0],["blob",[[3.8,6.02],[4.13,5.69],[5.12,5.08],[6.39,4.86],[7.43,5.12],[8.75,5.47],[9.63,6.24],[9.82,7.24],[9.52,8.45],[8.64,9.78],[7.27,10.14],[5.78,9.78],[4.46,9.28],[3.91,8.56],[3.78,7.79],[3.8,6.8]],[[1,1],[.91,.91],[.81,.82],[.71,.72],[.57,.58]]]];
const contours0142=[["ring",8.14,7.58,1.38,1.05,10,-20],["ring",12.09,2.43,.66,.77,4,0],["ring",14.87,13.27,.5,.77,4,0],["cyan",8.18,7.55,1.66,1.38,-10],["cyan",8.1,7.6,2.2,1.77,-10],["cyan",8.1,7.6,2.6,2.1,-10],["cyan",8.1,7.6,2.81,2.32,-10],["cyan",12.2,2.23,.88,.86,0],["cyan",14.87,13.27,1.16,1.33,0],["cyan",14.9,15,.6,.8,0]];
const contours0143=[["ring",7.43,7.96,1.05,1.16,12,0],["ring",3.43,2.78,.53,.57,3,0],["ring",0,11.3,.33,.94,5,0],["cyan",7.43,8,.47,.5,0],["cyan",7.43,7.96,1.16,1.16,0],["cyan",7.37,8.03,1.77,1.66,0],["cyan",7.43,8.03,2,1.93,0],["cyan",7.49,8.03,2.27,2.15,0],["cyan",3.83,2.9,.6,.5,0],["cyan",5.71,-.2,.77,.5,0],["cyan",0,11.4,2.05,2.5,0],["cyan",0,11.4,1.75,2.2,0],["cyan",0,11.4,1.4,1.9,0],["cyan",0,11.4,1.05,1.55,0]];
const contours0144=[["ring",8.03,7.97,1.6,1.05,12,40],["ring",10.1,6.13,.25,.27,1,0],["ring",8.2,.08,.55,.72,3,0],["ring",11.4,0,.66,.5,2,0],["ring",13.5,15.1,.8,.4,3,0],["cyan",8.1,7.9,.8,.8,0],["cyan",8.1,7.97,1.1,1.15,0],["cyan",8.1,7.97,1.65,1.7,0],["cyan",8.1,7.97,2.1,2.05,0],["cyan",8.1,7.97,2.45,2.35,0],["cyan",8.1,7.97,2.7,2.55,0],["cyan",8.1,7.97,2.92,2.76,0],["cyan",11.4,0,.75,.55,0],["cyan",13.6,15.35,1.38,1.6,0]];

const heatGrids=[heat0129,heat0130,heat0131,heat0132,heat0133,heat0136,heat0139,heat0140,heat0141,heat0142,heat0143,heat0144];
const cbTicks=[cbTicks0129,cbTicks0130,cbTicks0131,cbTicks0132,cbTicks0133,cbTicks0136,cbTicks0139,cbTicks0140,cbTicks0141,cbTicks0142,cbTicks0143,cbTicks0144];
const raLabels=[raLabels0129,raLabels0130,raLabels0131,raLabels0132,raLabels0133,raLabels0136,raLabels0139,raLabels0140,raLabels0141,raLabels0142,raLabels0143,raLabels0144];
const decLabels=[decLabels0129,decLabels0130,decLabels0131,decLabels0132,decLabels0133,decLabels0136,decLabels0139,decLabels0140,decLabels0141,decLabels0142,decLabels0143,decLabels0144];
const contourSets=[contours0129,contours0130,contours0131,contours0132,contours0133,contours0136,contours0139,contours0140,contours0141,contours0142,contours0143,contours0144];

const NS="http://www.w3.org/2000/svg";
const root=document.getElementById("figure");
const COLS=[112,719,1326];
const ROWS=[66,683,1301,1919];
const SIZE=484;
const STOPS=[[0,"#000000"],[.1,"#2c0048"],[.2,"#5000a8"],[.27,"#7200f0"],[.33,"#8a08ff"],[.41,"#a010b8"],[.47,"#a81868"],[.5,"#b02008"],[.6,"#c44000"],[.7,"#dc6a00"],[.8,"#eca000"],[.9,"#f6d000"],[1,"#ffff00"]];
function hex(s){return [1,3,5].map(function(i){return parseInt(s.substr(i,2),16);});}
function colorAt(f){
  f=Math.max(0,Math.min(1,f));
  for(let i=1;i<STOPS.length;i++){
    if(f<=STOPS[i][0]){
      const a=STOPS[i-1],b=STOPS[i],t=(f-a[0])/(b[0]-a[0]),ca=hex(a[1]),cb=hex(b[1]);
      return "rgb("+ca.map(function(v,k){return Math.round(v+(cb[k]-v)*t);}).join(",")+")";
    }
  }
  return STOPS[STOPS.length-1][1];
}
function mk(parent,tag,attrs,text){
  const el=document.createElementNS(NS,tag);
  for(const k in attrs){el.setAttribute(k,attrs[k]);}
  if(text!==undefined){el.textContent=text;}
  parent.appendChild(el);
  return el;
}
const grad=document.getElementById("cbGrad");
STOPS.forEach(function(s){mk(grad,"stop",{offset:s[0],"stop-color":s[1]});});

function smoothPath(pts,sx,sy){
  const n=pts.length;
  let d="";
  for(let i=0;i<n;i++){
    const p=pts[i],q=pts[(i+1)%n];
    const mx=(sx(p)+sx(q))/2,my=(sy(p)+sy(q))/2;
    if(i===0){
      const l=pts[n-1];
      d+="M"+((sx(l)+sx(p))/2).toFixed(1)+" "+((sy(l)+sy(p))/2).toFixed(1);
    }
    d+="Q"+sx(p).toFixed(1)+" "+sy(p).toFixed(1)+" "+mx.toFixed(1)+" "+my.toFixed(1);
  }
  return d+"Z";
}

panelIds.forEach(function(id,pi){
  const X=COLS[pi%3],Y=ROWS[Math.floor(pi/3)];
  const pxPerArcmin=SIZE/fieldSize[0];
  const xScale=function(a){return X+a*pxPerArcmin;};
  const yScale=function(a){return Y+a*pxPerArcmin;};
  const cbScale=function(v){return X+v/colorMax[pi]*SIZE;};

  const g=mk(root,"g",{});
  
  

  const clip=mk(g,"clipPath",{id:"clip"+pi});
  mk(clip,"rect",{x:X,y:Y,width:SIZE,height:SIZE});

  /* colour bar */
  const cbar=mk(g,"rect",{x:X,y:Y-31,width:SIZE,height:25,fill:"url(#cbGrad)",stroke:"#666","stroke-width":1.6});
  
  
  cbTicks[pi].forEach(function(v){
    const t=mk(g,"path",{d:"M"+cbScale(v)+" "+(Y-31)+"v4M"+cbScale(v)+" "+(Y-6)+"v-4",stroke:"#111","stroke-width":1.2,fill:"none"});
    
    
    const lab=mk(g,"text",{x:cbScale(v),y:Y-41,"font-size":25.5,fill:"#222","text-anchor":"middle"},String(v));
    
    
  });

  /* heat map */
  const heat=mk(g,"g",{"shape-rendering":"crispEdges"});
  
  
  const grid=heatGrids[pi],nr=grid.length,nc=grid[0].length;
  grid.forEach(function(row,r){
    const y0=Math.round(yScale(r/nr*fieldSize[0])),y1=Math.round(yScale((r+1)/nr*fieldSize[0]));
    row.forEach(function(v,c){
      const x0=Math.round(xScale(c/nc*fieldSize[0])),x1=Math.round(xScale((c+1)/nc*fieldSize[0]));
      const cell=mk(heat,"rect",{x:x0,y:y0,width:x1-x0,height:y1-y0,fill:colorAt(v/20)});
      
      
    });
  });

  /* grid lines, ticks, labels */
  const axes=mk(g,"g",{"clip-path":"url(#clip"+pi+")"});
  
  
  raLabels[pi].forEach(function(label,i){
    const a=raFirstTick[pi]+i*raTickStep[pi];
    const ln=mk(axes,"line",{x1:xScale(a),x2:xScale(a),y1:Y,y2:Y+SIZE,stroke:"#fff","stroke-opacity":.42,"stroke-width":1.6});
    
    
    const lab=mk(g,"text",{x:xScale(a),y:Y+SIZE+33,"font-size":25.5,fill:"#222","text-anchor":"middle"},label);
    
    
  });
  decLabels[pi].forEach(function(label,i){
    const a=decFirstTick[pi]+i*decTickStep[0];
    const ln=mk(axes,"line",{x1:X,x2:X+SIZE,y1:yScale(a),y2:yScale(a),stroke:"#fff","stroke-opacity":.42,"stroke-width":1.6});
    
    
    const lab=mk(g,"text",{x:X-10,y:yScale(a)+7,"font-size":25.5,fill:"#222","text-anchor":"end"},label);
    
    
  });
  let tickPath="";
  const raMinor=raTickStep[pi]/5;
  for(let a=raFirstTick[pi]%raMinor;a<fieldSize[0];a+=raMinor){
    tickPath+="M"+xScale(a).toFixed(1)+" "+Y+"v5M"+xScale(a).toFixed(1)+" "+(Y+SIZE)+"v-5";
  }
  const decMinor=decTickStep[0]/5;
  for(let a=decFirstTick[pi]%decMinor;a<fieldSize[0];a+=decMinor){
    tickPath+="M"+X+" "+yScale(a).toFixed(1)+"h5M"+(X+SIZE)+" "+yScale(a).toFixed(1)+"h-5";
  }
  const ticks=mk(axes,"path",{d:tickPath,stroke:"#fff","stroke-opacity":.7,"stroke-width":1.2,fill:"none"});
  
  

  /* contours */
  const cg=mk(g,"g",{"clip-path":"url(#clip"+pi+")",fill:"none"});
  
  
  contourSets[pi].forEach(function(c){
    if(c[0]==="ring"){
      const n=c[5];
      const fracs=[];
      for(let k=0;k<n;k++){fracs.push(1-k/n*0.92);}
      if(n>=7){fracs.push(0.965);}
      fracs.forEach(function(f){
        const e=mk(cg,"ellipse",{cx:xScale(c[1]),cy:yScale(c[2]),rx:c[3]*f*pxPerArcmin,ry:c[4]*f*pxPerArcmin,stroke:"#fff","stroke-opacity":.8,"stroke-width":1.8,transform:"rotate("+c[6]+" "+xScale(c[1])+" "+yScale(c[2])+")"});
        
        
      });
    }else if(c[0]==="cyan"){
      const e=mk(cg,"ellipse",{cx:xScale(c[1]),cy:yScale(c[2]),rx:c[3]*pxPerArcmin,ry:c[4]*pxPerArcmin,stroke:"#1cc8dc","stroke-width":1.8,transform:"rotate("+c[5]+" "+xScale(c[1])+" "+yScale(c[2])+")"});
      
      
    }else if(c[0]==="blob"){
      const pts=c[1];
      const mx=pts.reduce(function(s,p){return s+p[0];},0)/pts.length;
      const my=pts.reduce(function(s,p){return s+p[1];},0)/pts.length;
      c[2].forEach(function(sc){
        const d=smoothPath(pts,function(p){return xScale(mx+(p[0]-mx)*sc[0]);},function(p){return yScale(my+(p[1]-my)*sc[1]);});
        const e=mk(cg,"path",{d:d,stroke:"#1cc8dc","stroke-width":1.8});
        
        
      });
    }else if(c[0]==="open"){
      const d=smoothPath(c[1],function(p){return xScale(p[0]);},function(p){return yScale(p[1]);});
      const e=mk(cg,"path",{d:d,stroke:"#fff","stroke-opacity":.78,"stroke-width":1.5});
      
      
    }
  });

  /* beam insets */
  const beamBig=mk(g,"g",{});
  
  
  mk(beamBig,"rect",{x:X+10,y:Y+348,width:116,height:126,fill:"#fff",stroke:"#444","stroke-width":1.6});
  mk(beamBig,"ellipse",{cx:X+68,cy:Y+411,rx:46,ry:51.5,fill:"url(#hatch)",stroke:"#333","stroke-width":2});
  const beamSmall=mk(g,"g",{});
  
  
  mk(beamSmall,"rect",{x:X+426,y:Y+426,width:47,height:48,fill:"#fff",stroke:"#444","stroke-width":1.6});
  mk(beamSmall,"ellipse",{cx:X+449.5,cy:Y+450,rx:12.5,ry:12,fill:"url(#hatch)",stroke:"#333","stroke-width":1.8});

  /* frame + label */
  const frame=mk(g,"rect",{x:X,y:Y,width:SIZE,height:SIZE,fill:"none",stroke:"#777","stroke-width":1.6});
  
  
  const title=mk(g,"text",{x:X+4,y:Y+51,"font-size":41.5,"font-weight":"bold",fill:"#fff"},id);
  
  
});
</script>
</body>
</html>
